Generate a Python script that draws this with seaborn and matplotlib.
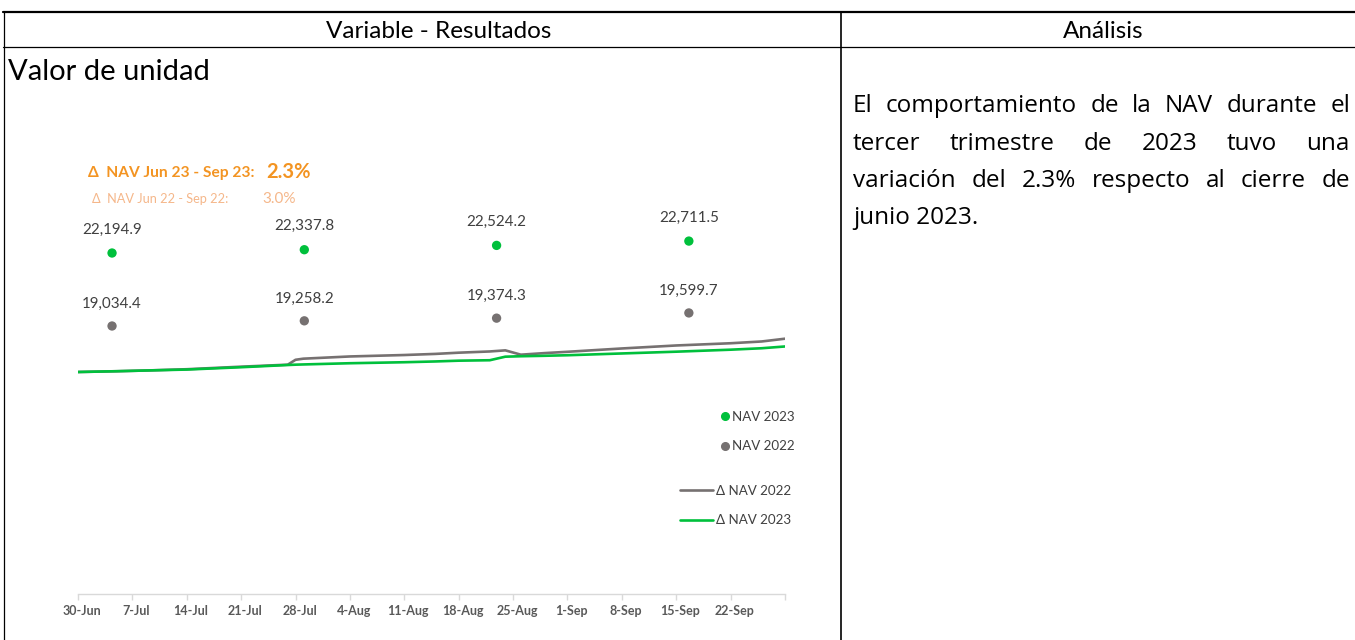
import matplotlib
matplotlib.use("Agg")
import matplotlib.pyplot as plt
import matplotlib.transforms as mtransforms
import seaborn as sns
import pandas as pd
from matplotlib.lines import Line2D

# ---------------- data ----------------
nav_periods = ["Jun", "Jul", "Aug", "Sep"]
nav_2023 = [22194.9, 22337.8, 22524.2, 22711.5]
nav_2022 = [19034.4, 19258.2, 19374.3, 19599.7]

delta_dates = ["2023-06-30", "2023-07-05", "2023-07-09", "2023-07-14", "2023-07-21",
               "2023-07-27", "2023-07-28", "2023-07-29", "2023-08-04", "2023-08-11",
               "2023-08-15", "2023-08-18", "2023-08-22", "2023-08-24", "2023-08-26",
               "2023-08-29", "2023-09-01", "2023-09-08", "2023-09-15", "2023-09-22",
               "2023-09-26", "2023-09-29"]
delta_nav_2022 = [0.00, 0.07, 0.14, 0.25, 0.48, 0.66, 1.10, 1.20, 1.40, 1.53, 1.63,
                  1.74, 1.85, 1.95, 1.56, 1.70, 1.82, 2.12, 2.39, 2.59, 2.75, 3.00]
delta_nav_2023 = [0.00, 0.07, 0.14, 0.22, 0.43, 0.63, 0.66, 0.68, 0.79, 0.88, 0.95,
                  1.02, 1.06, 1.38, 1.42, 1.46, 1.51, 1.67, 1.83, 2.01, 2.14, 2.30]

tick_dates = ["2023-06-30", "2023-07-07", "2023-07-14", "2023-07-21", "2023-07-28",
              "2023-08-04", "2023-08-11", "2023-08-18", "2023-08-25", "2023-09-01",
              "2023-09-08", "2023-09-15", "2023-09-22", "2023-09-29"]
tick_labels = ["30-Jun", "7-Jul", "14-Jul", "21-Jul", "28-Jul", "4-Aug", "11-Aug",
               "18-Aug", "25-Aug", "1-Sep", "8-Sep", "15-Sep", "22-Sep", ""]

header_left = "Variable - Resultados"
header_right = "Análisis"
row_title = "Valor de unidad"
summary_2023 = ("Δ  NAV Jun 23 - Sep 23:", "2.3%")
summary_2022 = ("Δ  NAV Jun 22 - Sep 22:", "3.0%")
analysis_lines = ["El comportamiento de la NAV durante el",
                  "tercer trimestre de 2023 tuvo una",
                  "variación del 2.3% respecto al cierre de",
                  "junio 2023."]

# ---------------- style ----------------
GREEN = "#00C03C"
GREY = "#767171"
ORANGE = "#F39422"
LORANGE = "#F5B78A"
TXT = "#404040"

sns.set_theme(style="white")
plt.rcParams['font.family'] = ['Lato', 'DejaVu Sans']

W, H = 1355, 640
fig = plt.figure(figsize=(W / 100, H / 100), dpi=100)
fig.patch.set_facecolor("white")

def fx(x):
    return x / W

def fy(y):
    return 1 - y / H

# ---------------- table frame ----------------
def hline(y, x0, x1, lw):
    fig.add_artist(Line2D([fx(x0), fx(x1)], [fy(y), fy(y)], color="black", lw=lw,
                          transform=fig.transFigure))

def vline(x, y0, y1, lw):
    fig.add_artist(Line2D([fx(x), fx(x)], [fy(y0), fy(y1)], color="black", lw=lw,
                          transform=fig.transFigure))

hline(12, 3, W, 1.6)
hline(47, 3, W, 0.9)
vline(3.5, 12, H, 0.9)
vline(841, 12, H, 1.2)

fig.text(fx(439), fy(31), header_left, ha="center", va="center", fontsize=17.5, color="black")
fig.text(fx(1103), fy(31), header_right, ha="center", va="center", fontsize=17.5, color="black")
fig.text(fx(8), fy(72), row_title, ha="left", va="center", fontsize=21, color="black")

# ---------------- chart ----------------
rect = [fx(78), fy(594), (785 - 78) / W, (594 - 150) / H]
ax = fig.add_axes(rect)
ax.set_facecolor("none")

df_lines = pd.DataFrame({
    "date": pd.to_datetime(delta_dates * 2),
    "pct": delta_nav_2022 + delta_nav_2023,
    "series": ["Δ NAV 2022"] * len(delta_dates) + ["Δ NAV 2023"] * len(delta_dates),
})
sns.lineplot(data=df_lines, x="date", y="pct", hue="series",
             hue_order=["Δ NAV 2022", "Δ NAV 2023"],
             palette={"Δ NAV 2022": GREY, "Δ NAV 2023": GREEN},
             linewidth=1.9, legend=False, ax=ax)
ax.set_ylim(-20, 20)
ax.set_xlim(pd.Timestamp("2023-06-30"), pd.Timestamp("2023-09-29"))
ax.set_xticks(pd.to_datetime(tick_dates))
ax.set_xticklabels(tick_labels)
ax.set_yticks([])
ax.set_xlabel("")
ax.set_ylabel("")
for s in ["top", "left", "right"]:
    ax.spines[s].set_visible(False)
ax.spines["bottom"].set_color("#D9D9D9")
ax.spines["bottom"].set_linewidth(1.0)
ax.tick_params(axis="x", bottom=True, length=4, width=1.0, color="#D9D9D9",
               direction="out", pad=4, labelsize=9, labelcolor="#595959")
shift = mtransforms.ScaledTranslation(4 / 100, 0, fig.dpi_scale_trans)
for lab in ax.get_xticklabels():
    lab.set_fontweight("bold")
    lab.set_transform(lab.get_transform() + shift)

# scatter (NAV values)
axp = fig.add_axes(rect)
axp.set_facecolor("none")
df_pts = pd.DataFrame({
    "period": nav_periods * 2,
    "nav": nav_2023 + nav_2022,
    "series": ["NAV 2023"] * 4 + ["NAV 2022"] * 4,
})
sns.scatterplot(data=df_pts, x="period", y="nav", hue="series",
                palette={"NAV 2023": GREEN, "NAV 2022": GREY},
                s=45, edgecolor="none", legend=False, ax=axp)
axp.set_xlim(-0.177, 3.5)
axp.set_ylim(7430, 26655)
axp.axis("off")
for i, v in enumerate(nav_2023):
    axp.annotate(f"{v:,.1f}", (i, v), xytext=(0, 17), textcoords="offset points",
                 ha="center", va="center", fontsize=10.9, color=TXT)
for i, v in enumerate(nav_2022):
    axp.annotate(f"{v:,.1f}", (i, v), xytext=(0, 16), textcoords="offset points",
                 ha="center", va="center", fontsize=10.9, color=TXT)

# summary annotations
fig.text(fx(88), fy(173), summary_2023[0], ha="left", va="center", fontsize=11.2,
         fontweight="bold", color=ORANGE)
fig.text(fx(266), fy(172), summary_2023[1], ha="left", va="center", fontsize=14.5,
         fontweight="bold", color=ORANGE)
fig.text(fx(92), fy(199), summary_2022[0], ha="left", va="center", fontsize=9.2,
         color=LORANGE)
fig.text(fx(262), fy(199), summary_2022[1], ha="left", va="center", fontsize=11,
         color=LORANGE)

# legends
pt_handles = [Line2D([], [], marker="o", linestyle="", color=GREEN, markersize=5.5),
              Line2D([], [], marker="o", linestyle="", color=GREY, markersize=5.5)]
fig.legend(pt_handles, ["NAV 2023", "NAV 2022"], loc="upper left",
           bbox_to_anchor=(fx(720), fy(411)), frameon=False, fontsize=9.6,
           handlelength=0.75, handletextpad=0.15, labelspacing=1.3,
           borderpad=0, borderaxespad=0, labelcolor=TXT)
ln_handles = [Line2D([], [], color=GREY, lw=1.9), Line2D([], [], color=GREEN, lw=1.9)]
fig.legend(ln_handles, ["Δ NAV 2022", "Δ NAV 2023"], loc="upper left",
           bbox_to_anchor=(fx(680), fy(485)), frameon=False, fontsize=9.6,
           handlelength=2.45, handletextpad=0.22, labelspacing=1.3,
           borderpad=0, borderaxespad=0, labelcolor=TXT)

# ---------------- analysis text (justified) ----------------
x_left, x_right = 853, 1350
line_y = [106, 143.5, 181, 218.5]
renderer = fig.canvas.get_renderer()
afont = dict(fontsize=17.5, color="black", family=["Open Sans", "DejaVu Sans"])
for li, (txt, yy) in enumerate(zip(analysis_lines, line_y)):
    words = txt.split(" ")
    if li == len(analysis_lines) - 1:
        fig.text(fx(x_left), fy(yy), txt, ha="left", va="center", **afont)
        continue
    arts = [fig.text(0, fy(yy), w, ha="left", va="center", **afont) for w in words]
    widths = [a.get_window_extent(renderer).width for a in arts]
    gap = (x_right - x_left - sum(widths)) / (len(words) - 1)
    xpos = x_left
    for a, wdt in zip(arts, widths):
        a.set_x(fx(xpos))
        xpos += wdt + gap

fig.savefig("out.png", dpi=100, facecolor="white")
